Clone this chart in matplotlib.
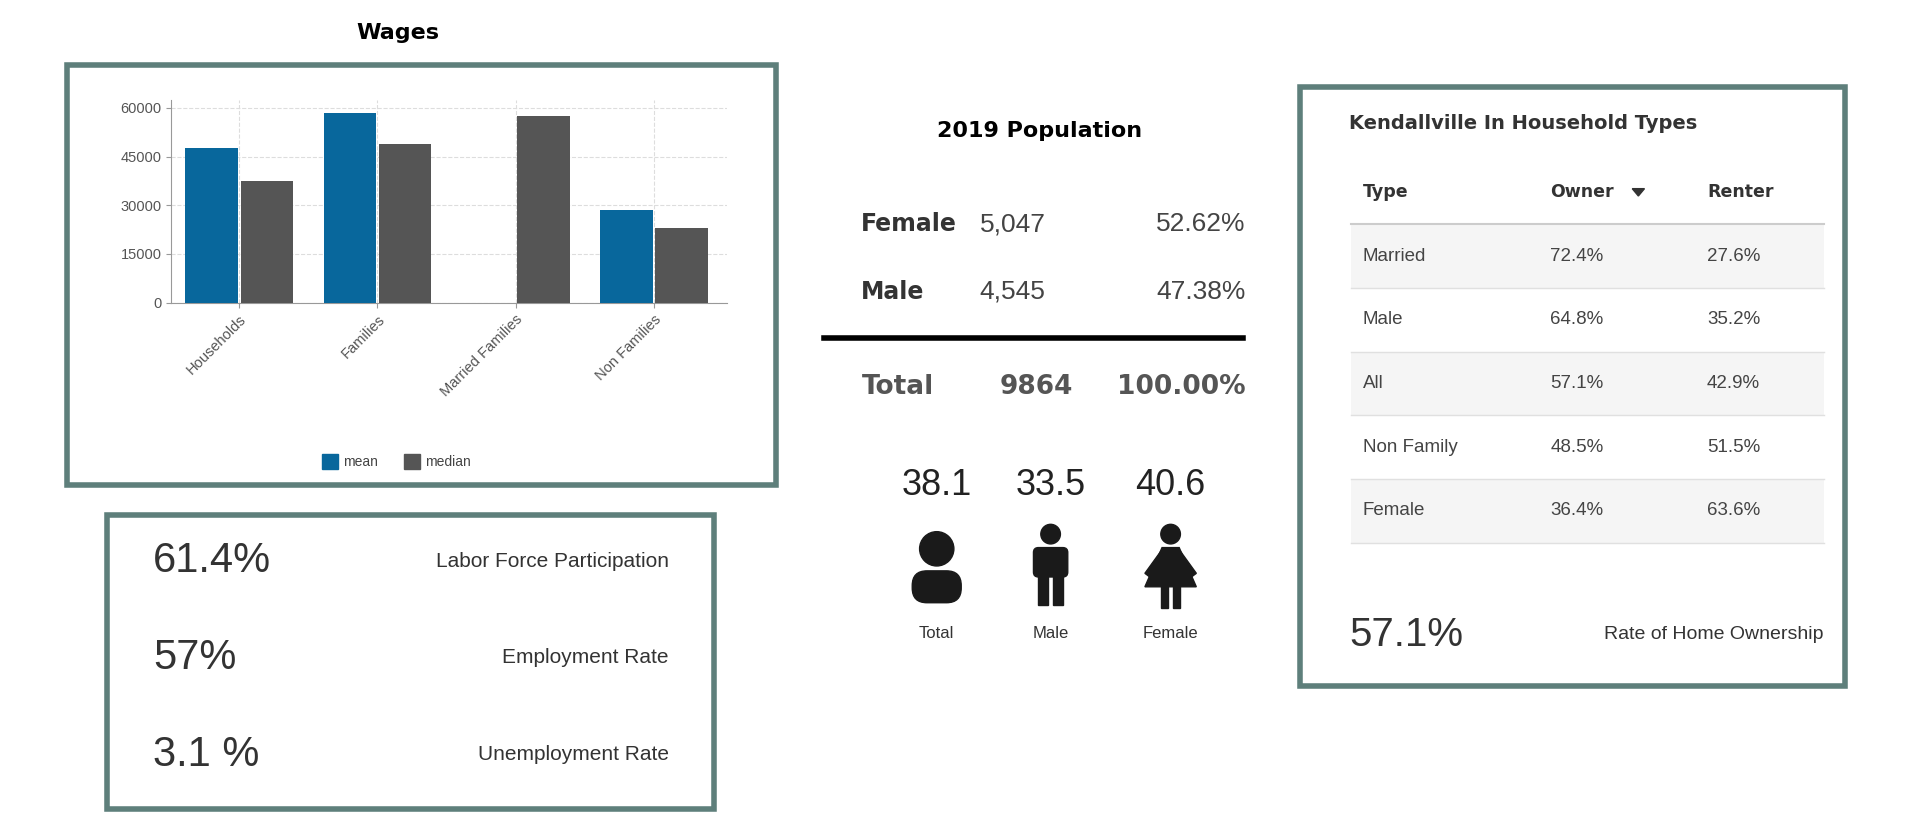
import matplotlib.pyplot as plt
from matplotlib.patches import Rectangle, Circle, FancyBboxPatch, Polygon
import numpy as np

plt.rcParams["font.family"] = ["Liberation Sans", "DejaVu Sans"]

W, H = 1568, 671

wage_groups = ["Households", "Families", "Married Families", "Non Families"]
wage_mean = [47500, 58500, 0, 28500]
wage_median = [37500, 49000, 57500, 23000]

labor_values = ["61.4%", "57%", "3.1 %"]
labor_labels = ["Labor Force Participation", "Employment Rate", "Unemployment Rate"]

pop_rows = [("Female", "5,047", "52.62%"), ("Male", "4,545", "47.38%")]
pop_total = ("Total", "9864", "100.00%")
ages = ["38.1", "33.5", "40.6"]
age_labels = ["Total", "Male", "Female"]

house_types = ["Married", "Male", "All", "Non Family", "Female"]
owner = ["72.4%", "64.8%", "57.1%", "48.5%", "36.4%"]
renter = ["27.6%", "35.2%", "42.9%", "51.5%", "63.6%"]
home_rate = "57.1%"

BORDER = "#5e7f7b"
MEAN_C = "#08679c"
MEDIAN_C = "#555555"
BOLD = ["DejaVu Sans"]

fig = plt.figure(figsize=(19.2, 8.22), dpi=100)
ov = fig.add_axes([0, 0, 1, 1])
ov.set_xlim(0, W)
ov.set_ylim(H, 0)
ov.axis("off")

def box(x0, y0, x1, y1):
    ov.add_patch(Rectangle((x0, y0), x1 - x0, y1 - y0, fill=False, ec=BORDER, lw=4))

# Wages panel
ov.text(325, 27, "Wages", ha="center", va="center", fontsize=16, fontweight="bold", family=BOLD)
box(55, 53, 634, 396)
ov.add_patch(Rectangle((263, 371), 13, 12, color=MEAN_C))
ov.text(280, 377, "mean", va="center", fontsize=10, color="#444")
ov.add_patch(Rectangle((330, 371), 13, 12, color=MEDIAN_C))
ov.text(347, 377, "median", va="center", fontsize=10, color="#444")

ax = fig.add_axes([140 / W, 1 - 247 / H, 454 / W, 165 / H])
ax.set_facecolor("none")
x = np.arange(len(wage_groups))
ax.bar(x - 0.2, wage_mean, width=0.38, color=MEAN_C, zorder=3)
ax.bar(x + 0.2, wage_median, width=0.38, color=MEDIAN_C, zorder=3)
ax.set_xlim(-0.49, 3.53)
ax.set_ylim(0, 62300)
ax.set_yticks([0, 15000, 30000, 45000, 60000])
ax.set_xticks(x)
ax.set_xticklabels(wage_groups, rotation=45, ha="right", rotation_mode="anchor", fontsize=10.5, color="#555")
ax.tick_params(axis="y", labelsize=10.5, labelcolor="#555", color="#999")
ax.tick_params(axis="x", color="#999")
ax.grid(True, ls="--", color="#ddd", lw=0.8)
for s in ["top", "right"]:
    ax.spines[s].set_visible(False)
for s in ["left", "bottom"]:
    ax.spines[s].set_color("#999")

# Labor panel
box(87, 420, 583, 660)
for i, (v, l) in enumerate(zip(labor_values, labor_labels)):
    y = 458 + i * 79
    ov.text(125, y, v, va="center", fontsize=30, color="#333")
    ov.text(546, y, l, va="center", ha="right", fontsize=15, color="#333")

# Population panel
ov.text(849, 107, "2019 Population", ha="center", va="center", fontsize=16, fontweight="bold", family=BOLD)
for i, (a, b, c) in enumerate(pop_rows):
    y = 183 + i * 55
    ov.text(703, y, a, va="center", fontsize=17, fontweight="bold", color="#333", family=BOLD)
    ov.text(854, y, b, va="center", ha="right", fontsize=19, color="#444")
    ov.text(1017, y, c, va="center", ha="right", fontsize=19, color="#444")
ov.plot([673, 1015], [276, 276], color="black", lw=4)
ov.text(704, 316, pop_total[0], va="center", fontsize=19, fontweight="bold", color="#555", family=BOLD)
ov.text(876, 316, pop_total[1], va="center", ha="right", fontsize=19, fontweight="bold", color="#555", family=BOLD)
ov.text(1017, 316, pop_total[2], va="center", ha="right", fontsize=19, fontweight="bold", color="#555", family=BOLD)
icon_x = [765, 858, 956]
for xc, a, l in zip(icon_x, ages, age_labels):
    ov.text(xc, 396, a, ha="center", va="center", fontsize=26, color="#222")
    ov.text(xc, 517, l, ha="center", va="center", fontsize=12, color="#333")
k = "#1a1a1a"
# total icon
ov.add_patch(Circle((765, 448), 14, color=k))
ov.add_patch(FancyBboxPatch((745, 466), 40, 26, boxstyle="round,pad=0,rounding_size=12", color=k))
# male icon
ov.add_patch(Circle((858, 436), 8, color=k))
ov.add_patch(FancyBboxPatch((844, 447), 28, 24, boxstyle="round,pad=0,rounding_size=4", color=k))
ov.add_patch(Rectangle((848, 468), 8, 26, color=k))
ov.add_patch(Rectangle((860, 468), 8, 26, color=k))
# female icon
ov.add_patch(Circle((956, 436), 8, color=k))
ov.add_patch(Polygon([(949, 447), (963, 447), (977, 479), (935, 479)], color=k))
ov.add_patch(Polygon([(948, 450), (935, 468), (939, 471), (950, 458)], color=k))
ov.add_patch(Polygon([(964, 450), (977, 468), (973, 471), (962, 458)], color=k))
ov.add_patch(Rectangle((948, 478), 6, 18, color=k))
ov.add_patch(Rectangle((958, 478), 6, 18, color=k))

# Household types panel
box(1062, 71, 1507, 560)
ov.text(1102, 101, "Kendallville In Household Types", va="center", fontsize=14, fontweight="bold", color="#333", family=BOLD)
hx = [1113, 1266, 1394]
for xx, t in zip(hx, ["Type", "Owner", "Renter"]):
    ov.text(xx, 157, t, va="center", fontsize=12.5, fontweight="bold", color="#333", family=BOLD)
ov.add_patch(Polygon([(1333, 154), (1343, 154), (1338, 160)], color="#333"))
ov.plot([1103, 1490], [183, 183], color="#ccc", lw=1.5)
for i, (t, o, r) in enumerate(zip(house_types, owner, renter)):
    yc = 209 + i * 52
    if i % 2 == 0:
        ov.add_patch(Rectangle((1103, yc - 26), 387, 52, color="#f5f5f5", lw=0))
    ov.plot([1103, 1490], [yc + 26, yc + 26], color="#e0e0e0", lw=1)
    ov.text(hx[0], yc, t, va="center", fontsize=13.5, color="#444")
    ov.text(hx[1], yc, o, va="center", fontsize=13.5, color="#444")
    ov.text(hx[2], yc, r, va="center", fontsize=13.5, color="#444")
ov.text(1102, 518, home_rate, va="center", fontsize=29, color="#333")
ov.text(1489, 518, "Rate of Home Ownership", va="center", ha="right", fontsize=14, color="#333")

fig.savefig("out.png", dpi=100)
